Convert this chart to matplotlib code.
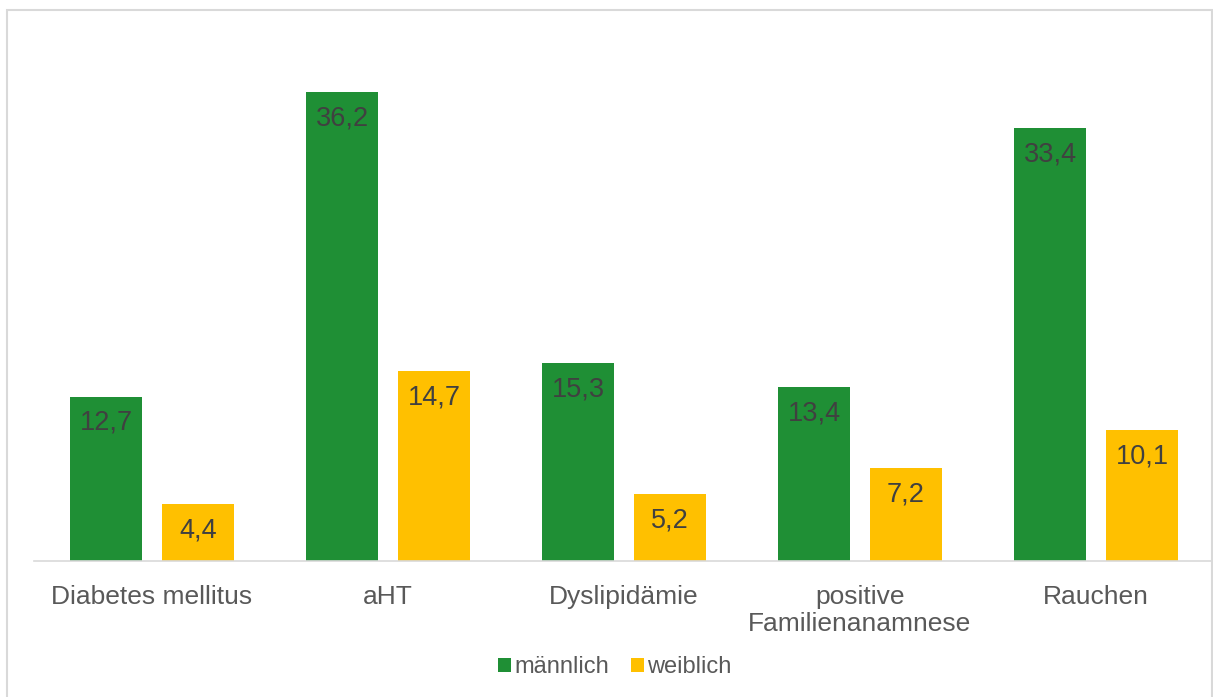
import matplotlib.pyplot as plt
import numpy as np
from matplotlib.patches import Rectangle

plt.rcParams["font.family"] = ["Liberation Sans", "DejaVu Sans"]

categories = ["Diabetes mellitus", "aHT", "Dyslipidämie",
              "positive\nFamilienanamnese", "Rauchen"]
maennlich = [12.7, 36.2, 15.3, 13.4, 33.4]
weiblich = [4.4, 14.7, 5.2, 7.2, 10.1]

GREEN = "#1f8f35"
YELLOW = "#ffc000"

W, H = 1213, 697
fig = plt.figure(figsize=(W / 100, H / 100), dpi=100)
ax = fig.add_axes([34 / W, (H - 561) / H, 1180 / W, 518 / H])

x = np.arange(len(categories))
off = 46 / 236
bw = 72 / 236
b1 = ax.bar(x - off, maennlich, bw, color=GREEN, label="männlich")
b2 = ax.bar(x + off, weiblich, bw, color=YELLOW, label="weiblich")

for bars, vals in ((b1, maennlich), (b2, weiblich)):
    for r, v in zip(bars, vals):
        ax.annotate(f"{v:.1f}".replace(".", ","),
                    (r.get_x() + r.get_width() / 2, r.get_height()),
                    xytext=(0, -19), textcoords="offset points",
                    ha="center", va="center", fontsize=19.5, color="#404040")

ax.set_xlim(-0.5, 4.5)
ax.set_ylim(0, 40)
ax.set_yticks([])
ax.set_xticks(x)
ax.set_xticklabels(categories, fontsize=19, color="#595959", linespacing=1.2)
ax.tick_params(axis="x", length=0, pad=17)
for s in ("top", "right", "left"):
    ax.spines[s].set_visible(False)
ax.spines["bottom"].set_color("#d9d9d9")
ax.spines["bottom"].set_linewidth(1.2)

leg = fig.legend(handles=[b1, b2], loc="center", bbox_to_anchor=(615 / W, (H - 667) / H),
                 ncol=2, frameon=False, fontsize=17, handlelength=0.55, handleheight=0.55,
                 handletextpad=0.15, columnspacing=0.9)
for t in leg.get_texts():
    t.set_color("#595959")

fig.patches.append(Rectangle((7 / W, -0.02), 1204.5 / W, (H - 10) / H + 0.02, transform=fig.transFigure,
                             fill=False, edgecolor="#d9d9d9", linewidth=1.5))

fig.savefig("out.png", dpi=100)
